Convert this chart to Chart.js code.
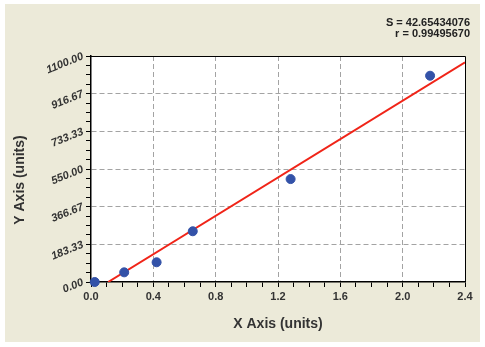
<!DOCTYPE html>
<html>
<head>
<meta charset="utf-8">
<script src="https://cdn.jsdelivr.net/npm/chart.js@4"></script>
<style>
  html, body { margin: 0; background: #fff; }
  #wrap { width: 485px; height: 347px; position: relative; }
</style>
</head>
<body>
<div id="wrap"><canvas id="chart" width="485" height="347"></canvas></div>
<script>
// --- data ---
const sampleX = [0.024, 0.213, 0.421, 0.653, 1.281, 2.176];
const sampleY = [0, 47, 96, 247, 501, 1004];
// fitted line, two end points
const fitX = [0.11, 2.4];
const fitY = [0, 1069];

const xTickLabels = [0, 0.4, 0.8, 1.2, 1.6, 2.0, 2.4];
const yTickLabels = [0, 183.33, 366.67, 550, 733.33, 916.67, 1100];
const minorPerMajor = 4;

const statLines = ['S = 42.65434076', 'r = 0.99495670'];
const xTitle = 'X Axis (units)';
const yTitle = 'Y Axis (units)';

const FONT = "'Liberation Sans', Arial, sans-serif";

// major + minor ticks
function withMinor(majors, n) {
  const out = [];
  majors.forEach((v, i) => {
    out.push({ value: v, major: true });
    if (i < majors.length - 1) {
      const step = (majors[i + 1] - v) / n;
      for (let k = 1; k < n; k++) out.push({ value: v + k * step, major: false });
    }
  });
  return out;
}

function gridColor(c) {
  const last = c.chart.scales[c.scale.id].ticks.length - 1;
  if (c.tick && c.tick.major && c.index > 0 && c.index < last) return '#a3a3a3';
  return 'rgba(0,0,0,0)';
}

const panelPlugin = {
  id: 'panel',
  beforeDraw(chart) {
    const { ctx, chartArea: a } = chart;
    ctx.save();
    ctx.fillStyle = '#fff';
    ctx.fillRect(0, 0, chart.width, chart.height);
    ctx.fillStyle = '#ECEAD9';
    ctx.fillRect(5, 4, 475, 338);
    ctx.fillStyle = '#fff';
    ctx.fillRect(a.left, a.top, a.right - a.left, a.bottom - a.top);
    ctx.restore();
  },
  afterDraw(chart) {
    const { ctx, chartArea: a } = chart;
    ctx.save();
    // top and right frame
    ctx.strokeStyle = '#000';
    ctx.lineWidth = 1;
    ctx.beginPath();
    ctx.moveTo(a.left, a.top + 0.5);
    ctx.lineTo(a.right + 0.5, a.top + 0.5);
    ctx.lineTo(a.right + 0.5, a.bottom);
    ctx.stroke();

    // stats text, top right
    ctx.fillStyle = '#222';
    ctx.font = 'bold 11px ' + FONT;
    ctx.textAlign = 'right';
    ctx.textBaseline = 'middle';
    ctx.fillText(statLines[0], 470, 23);
    ctx.fillText(statLines[1], 470, 34);

    // y axis title
    ctx.translate(20, 180);
    ctx.rotate(-Math.PI / 2);
    ctx.textAlign = 'center';
    ctx.font = 'bold 14px ' + FONT;
    ctx.fillStyle = '#333';
    ctx.fillText(yTitle, 0, 0);
    ctx.restore();
  }
};

new Chart(document.getElementById('chart'), {
  type: 'scatter',
  data: {
    datasets: [
      {
        label: 'samples',
        data: sampleX.map((x, i) => ({ x: x, y: sampleY[i] })),
        backgroundColor: '#3352A8',
        borderColor: '#3352A8',
        pointRadius: 4.5,
        pointHoverRadius: 4.5,
        clip: false
      },
      {
        label: 'fit',
        type: 'line',
        data: fitX.map((x, i) => ({ x: x, y: fitY[i] })),
        borderColor: '#F02418',
        borderWidth: 2,
        pointRadius: 0,
        fill: false
      }
    ]
  },
  options: {
    responsive: false,
    animation: false,
    layout: { padding: { top: 56, right: 20, bottom: 0, left: 0 } },
    plugins: { legend: { display: false }, tooltip: { enabled: false } },
    scales: {
      x: {
        type: 'linear',
        min: 0,
        max: 2.4,
        afterBuildTicks: s => { s.ticks = withMinor(xTickLabels, minorPerMajor); },
        afterFit: s => { s.height = 65; },
        ticks: {
          autoSkip: false,
          maxRotation: 0,
          padding: 3,
          color: '#333',
          font: { family: FONT, weight: 'bold', size: 11 },
          callback: (v, i, t) => t[i].major ? Number(v).toFixed(1) : ''
        },
        grid: { color: gridColor, tickColor: '#000', tickLength: 5, lineWidth: 1 },
        border: { color: '#000', width: 1.5, dash: [5, 3] },
        title: {
          display: true,
          text: xTitle,
          color: '#333',
          font: { family: FONT, weight: 'bold', size: 14 },
          padding: { top: 0, bottom: 14 }
        }
      },
      y: {
        type: 'linear',
        min: 0,
        max: 1100,
        afterBuildTicks: s => { s.ticks = withMinor(yTickLabels, minorPerMajor); },
        afterFit: s => { s.width = 91; },
        ticks: {
          autoSkip: false,
          minRotation: 22,
          maxRotation: 22,
          padding: 3,
          color: '#333',
          font: { family: FONT, weight: 'bold', style: 'italic', size: 11 },
          callback: (v, i, t) => t[i].major ? Number(v).toFixed(2) : ''
        },
        grid: { color: gridColor, tickColor: '#000', tickLength: 5, lineWidth: 1 },
        border: { color: '#000', width: 1.5, dash: [5, 3] }
      }
    }
  },
  plugins: [panelPlugin]
});
</script>
</body>
</html>
